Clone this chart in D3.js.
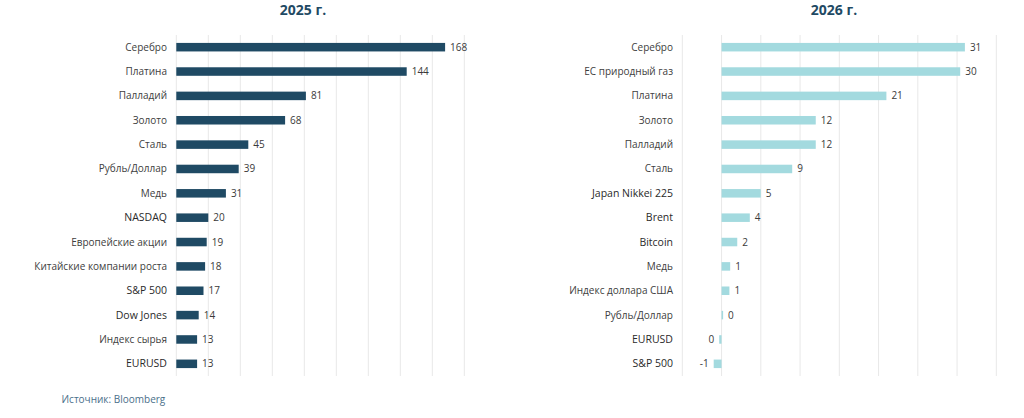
<!DOCTYPE html>
<html><head><meta charset="utf-8">
<script src="https://cdn.jsdelivr.net/npm/d3@7"></script>
<style>
html,body{margin:0;padding:0;background:#fff;}
svg{display:block;}
text{font-family:"Open Sans",sans-serif;}
</style></head>
<body>
<svg id="chart" width="1024" height="418"></svg>
<script>
// ---- data ----
const categories2025 = ["Серебро","Платина","Палладий","Золото","Сталь","Рубль/Доллар","Медь","NASDAQ","Европейские акции","Китайские компании роста","S&P 500","Dow Jones","Индекс сырья","EURUSD"];
const values2025 = [168,144,81,68,45,39,31,20,19,18,17,14,13,13];
const ticks2025 = [0,20,40,60,80,100,120,140,160,180];

const categories2026 = ["Серебро","ЕС природный газ","Платина","Золото","Палладий","Сталь","Japan Nikkei 225","Brent","Bitcoin","Медь","Индекс доллара США","Рубль/Доллар","EURUSD","S&P 500"];
const values2026 = [31,30.4,21,12,12,9,5,3.6,2,1.1,1,0.2,-0.3,-1];
const ticks2026 = [-5,0,5,10,15,20,25,30,35];

const titles = ["2025 г.","2026 г."];
const sourceText = "Источник: Bloomberg";

const svg = d3.select("#chart");
const fmt = v => { const r = Math.round(v); return String(r === 0 ? 0 : r); };
const isLatin = s => /^[A-Za-z0-9&\s]+$/.test(s);

function panel(cfg){
  const x = d3.scaleLinear().domain(cfg.domain).range(cfg.xrange);
  const y = d3.scaleBand().domain(cfg.cats).range([35,376]).paddingInner(0.65).paddingOuter(0.325);
  const g = svg.append("g");
  // grid
  g.selectAll("line.grid").data(cfg.ticks).join("line")
    .attr("x1", d=>x(d)).attr("x2", d=>x(d))
    .attr("y1", 35).attr("y2", 376)
    .attr("stroke", "#e8e8e8").attr("stroke-width", 1);
  // bars
  g.selectAll("rect.bar").data(cfg.cats.map((c,i)=>({c, v:cfg.vals[i]}))).join("rect")
    .attr("x", d=>Math.min(x(0), x(d.v)))
    .attr("width", d=>Math.max(Math.abs(x(d.v)-x(0)), 0.8))
    .attr("y", d=>y(d.c))
    .attr("height", y.bandwidth())
    .attr("fill", cfg.color);
  // value labels
  g.selectAll("text.val").data(cfg.cats.map((c,i)=>({c, v:cfg.vals[i]}))).join("text")
    .attr("x", d=> d.v < 0 ? x(d.v)-5 : x(d.v)+5)
    .attr("y", d=>y(d.c)+y.bandwidth()/2)
    .attr("dy","0.35em")
    .attr("text-anchor", d=> d.v < 0 ? "end" : "start")
    .attr("font-size", 10).attr("fill", "#3a3a3a")
    .text(d=>fmt(d.v));
  // category labels
  g.selectAll("text.cat").data(cfg.cats).join("text")
    .attr("x", cfg.labelX)
    .attr("y", d=>y(d)+y.bandwidth()/2)
    .attr("dy","0.35em")
    .attr("text-anchor","end")
    .attr("font-size", d=> isLatin(d) ? 10.5 : 10)
    .attr("fill", d=> isLatin(d) ? "#2a2a2a" : "#404040")
    .text(d=>d);
  // title
  g.append("text").attr("x", cfg.titleX).attr("y", 15)
    .attr("text-anchor","middle").attr("font-size", 14).attr("font-weight","bold")
    .attr("fill","#1f4a64").text(cfg.title);
}

panel({cats:categories2025, vals:values2025, ticks:ticks2025, domain:[0,180], xrange:[176.3,464.3], color:"#1f4a64", labelX:167, titleX:303, title:titles[0]});
panel({cats:categories2026, vals:values2026, ticks:ticks2026, domain:[-5,35], xrange:[682.3,996.3], color:"#a3dadf", labelX:673, titleX:834, title:titles[1]});

svg.append("text").attr("x", 61.5).attr("y", 403)
  .attr("font-size", 10).attr("fill", "#4a6f8a").text(sourceText);
</script>
</body></html>
